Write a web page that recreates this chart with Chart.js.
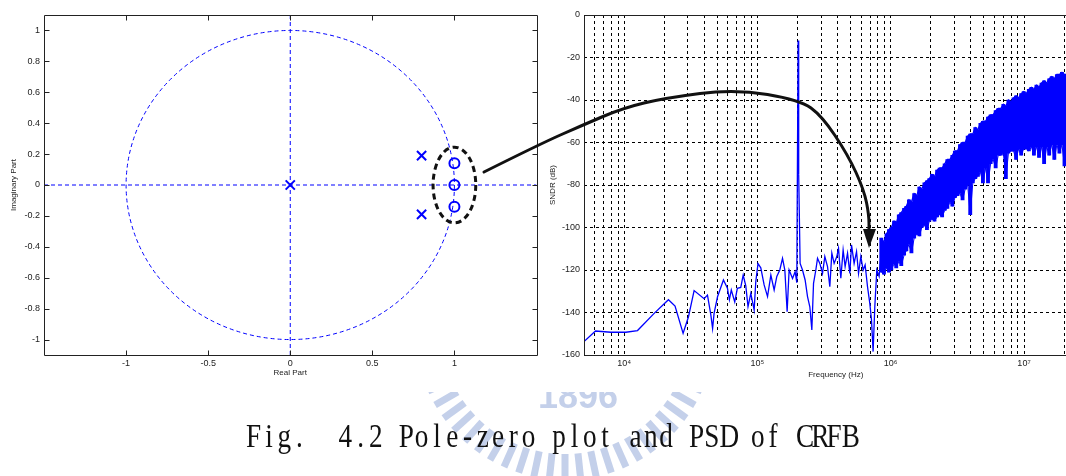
<!DOCTYPE html>
<html>
<head>
<meta charset="utf-8">
<script src="https://cdn.jsdelivr.net/npm/chart.js@4.4.0/dist/chart.umd.min.js"></script>
<style>
  html, body { margin: 0; padding: 0; background: #fff; overflow: hidden; }
  #page { position: relative; width: 1066px; height: 476px; overflow: hidden; }
  canvas { position: absolute; top: 0; }
  #mark { left: 0; }
  #pz { left: 0; }
  #psd { left: 540px; }
  #arrow { left: 0; pointer-events: none; }
  #caption {
    position: absolute; left: 246px; top: 419px; white-space: pre;
    font-family: "Liberation Serif", serif; font-size: 34px; line-height: 34px; color: #111;
    transform: scaleX(0.8); transform-origin: 0 0;
  }
  #caption span { display: inline-block; width: 19.1px; text-align: center; }
</style>
</head>
<body>
<div id="page">
  <canvas id="mark" width="1066" height="476"></canvas>
  <canvas id="pz" width="545" height="380"></canvas>
  <canvas id="psd" width="560" height="380"></canvas>
  <div id="caption"></div>
  <canvas id="arrow" width="1066" height="476"></canvas>
</div>
<script>
// ---- pole-zero plot ----
const reRange = [-1.5, 1.5];
const imRange = [-1.1, 1.1];
const reTicks = [-1, -0.5, 0, 0.5, 1];
const imTicks = [-1, -0.8, -0.6, -0.4, -0.2, 0, 0.2, 0.4, 0.6, 0.8, 1];
const poleRe = [0, 0.8, 0.8];
const poleIm = [0, 0.19, -0.19];
const zeroRe = [1, 1, 1];
const zeroIm = [0.14, 0, -0.14];
const unitRadius = 1;

// ---- PSD ----
const freqRange = [5000, 3e7];
const dbRange = [-160, 0];
const dbTicks = [0, -20, -40, -60, -80, -100, -120, -140, -160];
const freqGrid = [5e3, 6e3, 7e3, 8e3, 9e3,
  1e4, 2e4, 3e4, 4e4, 5e4, 6e4, 7e4, 8e4, 9e4,
  1e5, 2e5, 3e5, 4e5, 5e5, 6e5, 7e5, 8e5, 9e5,
  1e6, 2e6, 3e6, 4e6, 5e6, 6e6, 7e6, 8e6, 9e6,
  1e7, 2e7, 3e7];
const freqMajor = [1e4, 1e5, 1e6, 1e7];
const freqLabels = ['10\u2074', '10\u2075', '10\u2076', '10\u2077'];

// single trace, low / mid band (Hz, dB)
const lineFreq = [5000, 6100, 7950, 10300, 12600, 16800, 21500, 24100, 27700, 30400,
  33500, 39800, 42200, 44700, 46100, 47300, 50200, 55600, 59600, 61600,
  63700, 67600, 70700, 75000, 78200, 81800, 85000, 89200, 94500, 97200,
  101000, 106000, 112300, 119100, 126100, 133500, 139800, 147200, 154300, 160600,
  167100, 172900, 183400, 191800, 197500, 200000, 202000, 204000, 209100, 217900,
  228000, 237600, 247300, 256000, 263600, 274300, 282400, 293900, 307900, 320400,
  335700, 349300, 361600, 376300, 394200, 406000, 422500, 439600, 455000, 474300,
  493500, 508200, 531500, 554100, 573600, 596900, 621000, 642800, 669900, 696900,
  717700, 737800, 759800, 786500, 818500, 842900];
const lineDb = [-153.7, -148.7, -149.3, -149.3, -148.5, -140.4, -134, -137, -149.8, -142,
  -129.7, -133.5, -131.8, -141, -147.5, -140.4, -132.6, -124.7, -128.6, -134,
  -129.4, -135, -128.6, -128.2, -122.4, -127.5, -137.2, -131, -138.8, -125.5,
  -117, -119, -127, -132.5, -122.4, -129.4, -123, -120, -114.5, -120,
  -139.6, -120, -124, -120.8, -126, -60, -12, -75, -116.9, -120,
  -124.7, -132.5, -137.3, -148.2, -126.3, -120, -114.5, -116.9, -121.6, -113.7,
  -118.4, -127.9, -112.1, -116.9, -113.7, -109.8, -123.9, -110.6, -118.4, -112.1,
  -121.6, -108.2, -116.9, -111.4, -121.6, -113.7, -120, -117.6, -127.9, -135.7,
  -143.5, -158.4, -137.3, -120, -123, -113.7];

// dense noise band above ~850 kHz: upper and lower edge per column (kHz, dB)
const bandFreqKHz = [850, 890, 930, 970, 1010, 1060, 1100, 1150, 1200, 1260,
  1310, 1370, 1430, 1500, 1570, 1640, 1710, 1790, 1870, 1950,
  2040, 2130, 2230, 2330, 2430, 2540, 2660, 2780, 2900, 3030,
  3170, 3310, 3460, 3620, 3780, 3950, 4130, 4310, 4510, 4710,
  4920, 5140, 5370, 5620, 5870, 6130, 6410, 6700, 7000, 7310,
  7640, 7990, 8350, 8720, 9110, 9520, 9950, 10400, 10870, 11360,
  11870, 12400, 12960, 13540, 14150, 14790, 15450, 16150, 16880, 17640,
  18430, 19260, 20130, 21030, 21980, 22970, 24000, 25080, 26210, 27390,
  28620, 29910];
const bandHi = [-105, -107, -103, -101, -100, -97, -98, -94, -93, -91,
  -90, -87, -88, -84, -85, -81, -82, -79, -78, -77,
  -75, -76, -73, -72, -72, -70, -68, -68, -66, -64,
  -64, -61, -60, -60, -57, -56, -56, -53, -54, -51,
  -50, -50, -48, -47, -47, -45, -44, -44, -42, -43,
  -40, -41, -39, -38, -39, -37, -36, -37, -35, -34,
  -35, -33, -34, -32, -31, -32, -30, -29, -30, -28,
  -28, -27, -28, -28, -27, -27, -26, -27, -26, -25,
  -26, -25];
const bandLo = [-121, -122, -119, -121, -120, -117, -119, -116, -118, -113,
  -111, -108, -112, -105, -103, -104, -100, -99, -101, -97,
  -96, -97, -95, -94, -95, -92, -91, -88, -90, -86,
  -85, -84, -87, -82, -80, -94, -79, -77, -76, -74,
  -79, -72, -79, -70, -68, -72, -66, -66, -65, -77,
  -65, -64, -64, -68, -63, -66, -63, -63, -64, -62,
  -66, -62, -67, -62, -70, -62, -66, -61, -68, -61,
  -65, -61, -71, -61, -61, -64, -60, -63, -60, -66,
  -60, -61];

// ---- annotation ----
const arrowPath = [[484, 172], [540, 144], [583, 125], [623, 108], [665, 98], [735, 89],
  [800, 100], [822, 116], [848, 155], [864, 190], [869, 215], [869, 232]];
const arrowHead = [[869, 248], [863, 229], [876, 229]];
const ringCenter = [1, 0];
const ringRadius = [0.13, 0.245];
const captionText = 'Fig.  4.2 Pole-zero plot and PSD of CRFB';

const blue = '#0000ff';
const tickFont = { family: 'Liberation Sans', size: 9 };
const titleFont = { family: 'Liberation Sans', size: 8 };
const ink = '#222';

const framePlugin = {
  id: 'frame',
  afterDraw(chart, args, opts) {
    const { ctx, chartArea: a, scales } = chart;
    const L = Math.round(a.left) + 0.5, T = Math.round(a.top) + 0.5;
    const R = Math.round(a.right) + 0.5, B = Math.round(a.bottom) + 0.5;
    ctx.save();
    ctx.setLineDash([]);
    ctx.strokeStyle = ink;
    ctx.lineWidth = 1;
    ctx.beginPath();
    ctx.moveTo(L, T); ctx.lineTo(R, T); ctx.lineTo(R, B); ctx.lineTo(L, B); ctx.closePath();
    if (opts.inTicks) {
      const n = 5;
      scales.x.ticks.forEach(t => {
        const x = Math.round(scales.x.getPixelForValue(t.value)) + 0.5;
        ctx.moveTo(x, B); ctx.lineTo(x, B - n);
        ctx.moveTo(x, T); ctx.lineTo(x, T + n);
      });
      scales.y.ticks.forEach(t => {
        const y = Math.round(scales.y.getPixelForValue(t.value)) + 0.5;
        ctx.moveTo(L, y); ctx.lineTo(L + n, y);
        ctx.moveTo(R, y); ctx.lineTo(R - n, y);
      });
    }
    ctx.stroke();
    ctx.restore();
  }
};

const circlePlugin = {
  id: 'unitCircle',
  beforeDatasetsDraw(chart) {
    const { ctx, scales: { x, y } } = chart;
    const cx = x.getPixelForValue(0), cy = y.getPixelForValue(0);
    const rx = x.getPixelForValue(unitRadius) - cx;
    const ry = cy - y.getPixelForValue(unitRadius);
    ctx.save();
    ctx.strokeStyle = blue;
    ctx.lineWidth = 1;
    ctx.setLineDash([4, 3]);
    ctx.beginPath();
    ctx.ellipse(cx, cy, rx, ry, 0, 0, Math.PI * 2);
    ctx.stroke();
    ctx.restore();
  },
  afterDraw(chart) {
    const { ctx, scales: { x, y } } = chart;
    const cx = x.getPixelForValue(ringCenter[0]), cy = y.getPixelForValue(ringCenter[1]);
    const rx = x.getPixelForValue(ringCenter[0] + ringRadius[0]) - cx;
    const ry = cy - y.getPixelForValue(ringCenter[1] + ringRadius[1]);
    ctx.save();
    ctx.strokeStyle = '#111';
    ctx.lineWidth = 3;
    ctx.setLineDash([6, 4]);
    ctx.beginPath();
    ctx.ellipse(cx, cy, rx, ry, 0, 0, Math.PI * 2);
    ctx.stroke();
    ctx.restore();
  }
};

new Chart(document.getElementById('pz'), {
  type: 'scatter',
  data: {
    datasets: [
      { data: [{ x: reRange[0], y: 0 }, { x: reRange[1], y: 0 }], showLine: true,
        borderColor: blue, borderWidth: 1, borderDash: [4, 3], pointRadius: 0 },
      { data: [{ x: 0, y: imRange[0] }, { x: 0, y: imRange[1] }], showLine: true,
        borderColor: blue, borderWidth: 1, borderDash: [4, 3], pointRadius: 0 },
      { data: poleRe.map((r, i) => ({ x: r, y: poleIm[i] })), pointStyle: 'crossRot',
        pointRadius: 6.5, borderColor: blue, backgroundColor: blue, borderWidth: 2 },
      { data: zeroRe.map((r, i) => ({ x: r, y: zeroIm[i] })), pointStyle: 'circle',
        pointRadius: 5, borderColor: blue, backgroundColor: 'rgba(0,0,0,0)', borderWidth: 2 }
    ]
  },
  options: {
    responsive: false, animation: false, devicePixelRatio: 1,
    layout: { padding: { top: 15, right: 8, left: 0, bottom: 0 } },
    plugins: { legend: { display: false }, tooltip: { enabled: false }, frame: { inTicks: true } },
    scales: {
      x: {
        type: 'linear', min: reRange[0], max: reRange[1],
        afterBuildTicks: s => { s.ticks = reTicks.map(v => ({ value: v })); },
        afterFit: s => { s.height = 25; },
        grid: { display: false, drawTicks: false }, border: { display: false },
        ticks: { font: tickFont, color: ink, padding: 3, autoSkip: false, maxRotation: 0, callback: v => String(v) },
        title: { display: true, text: 'Real Part', font: titleFont, color: ink, padding: { top: 0, bottom: 2 } }
      },
      y: {
        type: 'linear', min: imRange[0], max: imRange[1],
        afterBuildTicks: s => { s.ticks = imTicks.map(v => ({ value: v })); },
        afterFit: s => { s.width = 44; },
        grid: { display: false, drawTicks: false }, border: { display: false },
        ticks: { font: tickFont, color: ink, padding: 4, autoSkip: false, callback: v => String(v) },
        title: { display: true, text: 'Imaginary Part', font: titleFont, color: ink, padding: { top: 9, bottom: 0 } }
      }
    }
  },
  plugins: [framePlugin, circlePlugin]
});

const bandHiPts = bandFreqKHz.map((f, i) => ({ x: f * 1000, y: bandHi[i] }));
const bandLoPts = bandFreqKHz.map((f, i) => ({ x: f * 1000, y: bandLo[i] }));

new Chart(document.getElementById('psd'), {
  type: 'line',
  data: {
    datasets: [
      { data: lineFreq.map((f, i) => ({ x: f, y: lineDb[i] })), borderColor: blue,
        borderWidth: 1.3, pointRadius: 0, fill: false },
      { type: 'bar', data: bandFreqKHz.map((f, i) => ({ x: f * 1000, y: [bandLo[i], bandHi[i]] })),
        backgroundColor: blue, borderWidth: 0, barThickness: 3.2 },
      { data: bandHiPts, borderColor: blue, borderWidth: 1.3, pointRadius: 0, fill: false },
      { data: bandLoPts, borderColor: blue, borderWidth: 1, pointRadius: 0, fill: false }
    ]
  },
  options: {
    responsive: false, animation: false, devicePixelRatio: 1,
    layout: { padding: { top: 15, right: 12.4, left: 0, bottom: 0 } },
    plugins: { legend: { display: false }, tooltip: { enabled: false }, frame: { inTicks: false } },
    scales: {
      x: {
        type: 'logarithmic', min: freqRange[0], max: freqRange[1], offset: false,
        afterBuildTicks: s => { s.ticks = freqGrid.map(v => ({ value: v })); },
        afterFit: s => { s.height = 25; },
        grid: { color: '#000', lineWidth: 1, drawTicks: false, offset: false },
        border: { display: false, dash: [3, 3] },
        ticks: { font: tickFont, color: ink, padding: 3, autoSkip: false, maxRotation: 0,
          callback: v => { const i = freqMajor.indexOf(v); return i < 0 ? '' : freqLabels[i]; } },
        title: { display: true, text: 'Frequency (Hz)', font: titleFont, color: ink, padding: { top: 0, bottom: 0 } }
      },
      y: {
        type: 'linear', min: dbRange[0], max: dbRange[1],
        afterBuildTicks: s => { s.ticks = dbTicks.map(v => ({ value: v })); },
        afterFit: s => { s.width = 44; },
        grid: { color: '#000', lineWidth: 1, drawTicks: false },
        border: { display: false, dash: [3, 3] },
        ticks: { font: tickFont, color: ink, padding: 4, autoSkip: false, callback: v => String(v) },
        title: { display: true, text: 'SNDR (dB)', font: titleFont, color: ink, padding: { top: 8, bottom: 0 } }
      }
    }
  },
  plugins: [framePlugin]
});

// faint emblem behind the caption
(function () {
  const ctx = document.getElementById('mark').getContext('2d');
  ctx.save();
  ctx.beginPath();
  ctx.rect(0, 392, 1066, 84);
  ctx.clip();
  ctx.fillStyle = '#c4d0ea';
  for (let k = 0; k < 60; k++) {
    ctx.save();
    ctx.translate(565, 330);
    ctx.rotate(k * Math.PI / 30);
    ctx.fillRect(124, -3.5, 26, 7);
    ctx.restore();
  }
  ctx.font = 'bold 36px "Liberation Sans"';
  ctx.textAlign = 'center';
  ctx.fillText('1896', 578, 408);
  ctx.restore();
})();

// curved arrow from the zeros to the noise notch
(function () {
  const ctx = document.getElementById('arrow').getContext('2d');
  const p = arrowPath;
  ctx.strokeStyle = '#111';
  ctx.fillStyle = '#111';
  ctx.lineWidth = 3;
  ctx.lineCap = 'round';
  ctx.beginPath();
  ctx.moveTo(p[0][0], p[0][1]);
  for (let i = 1; i < p.length - 1; i++) {
    const mx = (p[i][0] + p[i + 1][0]) / 2, my = (p[i][1] + p[i + 1][1]) / 2;
    ctx.quadraticCurveTo(p[i][0], p[i][1], mx, my);
  }
  ctx.lineTo(p[p.length - 1][0], p[p.length - 1][1]);
  ctx.stroke();
  ctx.beginPath();
  ctx.moveTo(arrowHead[0][0], arrowHead[0][1]);
  ctx.lineTo(arrowHead[1][0], arrowHead[1][1]);
  ctx.lineTo(arrowHead[2][0], arrowHead[2][1]);
  ctx.closePath();
  ctx.fill();
})();

// caption, one fixed-width cell per character
const cap = document.getElementById('caption');
for (const ch of captionText) {
  const s = document.createElement('span');
  s.textContent = ch;
  cap.appendChild(s);
}
</script>
</body>
</html>
